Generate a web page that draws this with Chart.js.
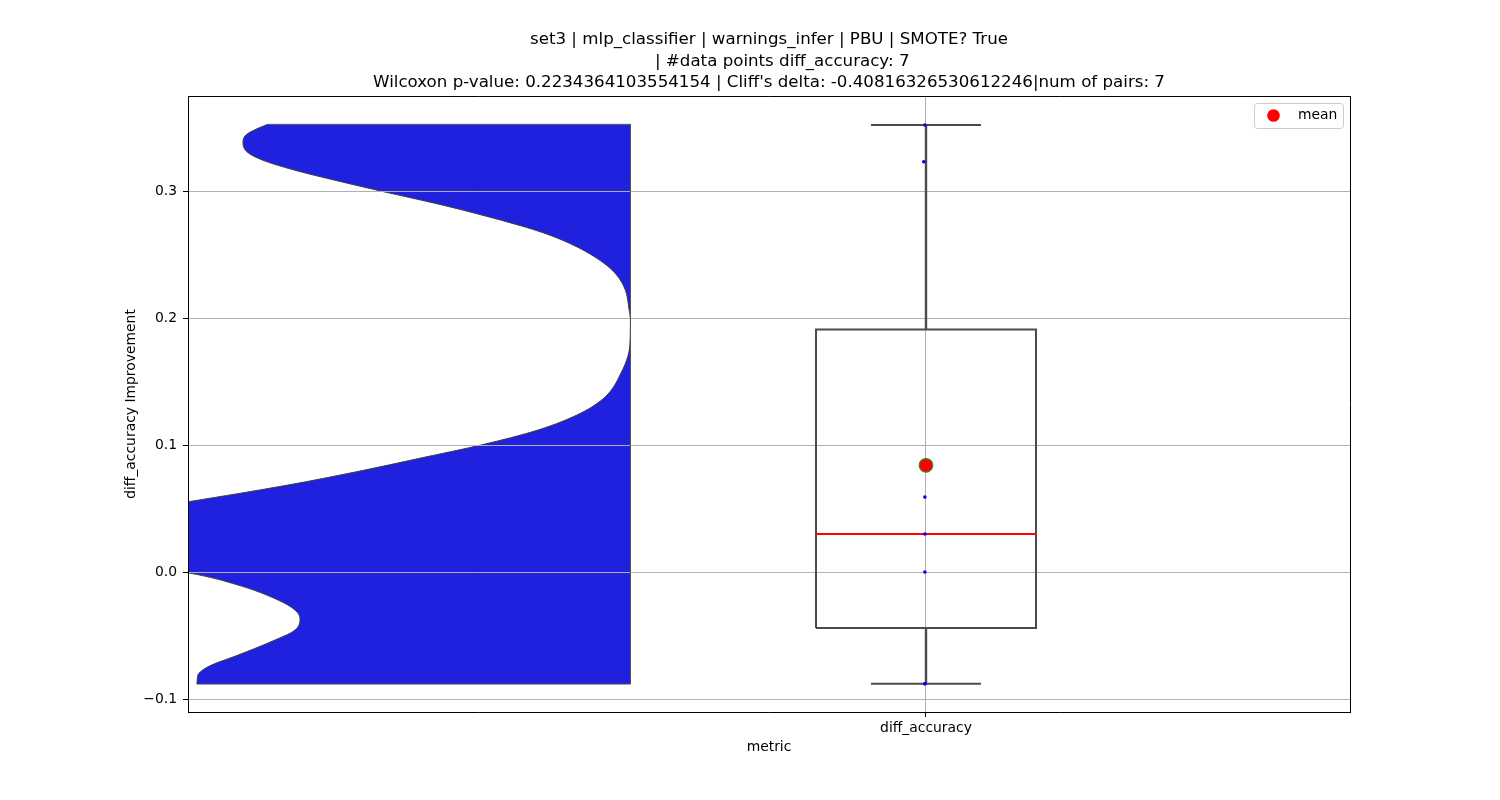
<!DOCTYPE html>
<html>
<head>
<meta charset="utf-8">
<script src="https://cdn.jsdelivr.net/npm/chart.js@4/dist/chart.umd.min.js"></script>
<style>
html,body{margin:0;padding:0;background:#fff;}
#wrap{width:1500px;height:800px;}
</style>
</head>
<body>
<div id="wrap"><canvas id="c" width="1500" height="800"></canvas></div>
<script>
// ---------------- data ----------------
const titleLines = [
  "set3 | mlp_classifier | warnings_infer | PBU | SMOTE? True",
  "     | #data points diff_accuracy: 7",
  "Wilcoxon p-value: 0.2234364103554154 | Cliff's delta: -0.40816326530612246|num of pairs: 7"
];
const categories = ["diff_accuracy"];
const categoryPositions = [0];
const yTickValues = [-0.1, 0.0, 0.1, 0.2, 0.3];
const yTickLabels = ["\u22120.1", "0.0", "0.1", "0.2", "0.3"];
const xLimits = [-1.3418, 0.7709];
const yLimits = [-0.1102, 0.3748];

// observed values (strip points) and their small horizontal jitter
const pointValues = [0.352, 0.323, 0.059, 0.030, 0.0, -0.088, -0.088];
const pointJitter = [-0.002, -0.004, -0.002, -0.002, -0.002, -0.002, -0.002];

// box statistics
const quartiles = [-0.044, 0.030, 0.191];   // q1, median, q3
const whiskers = [-0.088, 0.352];           // low, high
const meanValues = [0.084];

// half-violin outline (value axis, and x position of curve)
const violinValues = [-0.0882,-0.0811,-0.0746,-0.0654,-0.0549,-0.0457,-0.0365,-0.0299,-0.0220,-0.0102,-0.0006,
  0.006,0.028,0.048,0.0553,0.0685,0.0787,0.0898,0.1000,0.1118,0.1252,0.1378,0.1567,0.1774,0.1984,0.2071,
  0.2228,0.2354,0.2465,0.2583,0.2685,0.2798,0.2898,0.2992,0.3079,0.3157,0.3236,0.3302,0.3380,0.3441,0.3494,0.3525];
const violinCurveX = [-1.3255,-1.3236,-1.3055,-1.2509,-1.1909,-1.1473,-1.1382,-1.1473,-1.1782,-1.2509,-1.3418,
  -1.45,-1.52,-1.45,-1.3418,-1.16,-1.0382,-0.9182,-0.8091,-0.7055,-0.6273,-0.5836,-0.5545,-0.5387,-0.5373,-0.5400,
  -0.5473,-0.5655,-0.5964,-0.6455,-0.7055,-0.7964,-0.8873,-0.9836,-1.0691,-1.1418,-1.2018,-1.2327,-1.2418,-1.2364,-1.2145,-1.1964];
const violinEdgeX = [-0.5373];

// ---------------- layout / style constants ----------------
const BOX_HALF = 0.2, CAP_HALF = 0.1;
const FONT = 'DejaVu Sans';
const GRAY = '#4b4b4b';

Chart.defaults.font.family = FONT;
Chart.defaults.color = '#000';

const pos = categoryPositions[0];
const violinCurve = violinValues.map((v, i) => ({x: violinCurveX[i], y: v}));
const vTop = violinValues[violinValues.length - 1], vBot = violinValues[0];
const violinEdge = [
  {x: violinCurveX[violinCurveX.length - 1], y: vTop},
  {x: violinEdgeX[0], y: vTop},
  {x: violinEdgeX[0], y: vBot},
  {x: violinCurveX[0], y: vBot}
];
const [q1, med, q3] = quartiles;
const boxRect = [
  {x: pos - BOX_HALF, y: q1}, {x: pos + BOX_HALF, y: q1},
  {x: pos + BOX_HALF, y: q3}, {x: pos - BOX_HALF, y: q3}, {x: pos - BOX_HALF, y: q1}
];
const lineDs = (data, color, width, order) => ({
  data, showLine: true, borderColor: color, borderWidth: width, pointRadius: 0,
  pointHoverRadius: 0, fill: false, tension: 0, order
});

const gridOverViolin = {
  id: 'gridOverViolin',
  afterDatasetDraw(chart, args) {
    if (args.index !== 0) return;
    const ctx = chart.ctx;
    ctx.save();
    chart.scales.y.drawGrid(chart.chartArea);
    ctx.restore();
    ctx.save();
    chart.scales.y.drawBorder();
    ctx.restore();
  }
};

const meanLegend = {
  id: 'meanLegend',
  afterDraw(chart) {
    const {ctx, chartArea} = chart;
    const w = 89, h = 25, r = 3;
    const x = chartArea.right - 7 - w + 0.5, y = chartArea.top + 7 + 0.5;
    ctx.save();
    ctx.beginPath();
    ctx.moveTo(x + r, y);
    ctx.lineTo(x + w - r, y); ctx.arcTo(x + w, y, x + w, y + r, r);
    ctx.lineTo(x + w, y + h - r); ctx.arcTo(x + w, y + h, x + w - r, y + h, r);
    ctx.lineTo(x + r, y + h); ctx.arcTo(x, y + h, x, y + h - r, r);
    ctx.lineTo(x, y + r); ctx.arcTo(x, y, x + r, y, r);
    ctx.closePath();
    ctx.fillStyle = 'rgba(255,255,255,0.8)';
    ctx.fill();
    ctx.strokeStyle = '#cccccc';
    ctx.lineWidth = 1;
    ctx.stroke();
    ctx.beginPath();
    ctx.arc(x + 19, y + 12, 6.3, 0, Math.PI * 2);
    ctx.fillStyle = '#ff0000';
    ctx.fill();
    ctx.fillStyle = '#000';
    ctx.font = '13.9px "' + FONT + '"';
    ctx.textAlign = 'left';
    ctx.textBaseline = 'middle';
    ctx.fillText('mean', x + 43.5, y + 12);
    ctx.restore();
  }
};

new Chart(document.getElementById('c'), {
  type: 'scatter',
  data: {
    datasets: [
      { // 0: half violin (filled from curve to its flat edge)
        data: violinCurve, indexAxis: 'y', showLine: true,
        cubicInterpolationMode: 'monotone', capBezierPoints: false,
        borderColor: '#3f3f3f', borderWidth: 1, backgroundColor: '#2020df',
        fill: {value: violinEdgeX[0]}, pointRadius: 0, pointHoverRadius: 0, order: 10
      },
      lineDs(violinEdge, '#555555', 1, 9),
      lineDs(boxRect, GRAY, 2, 6),
      lineDs([{x: pos, y: q3}, {x: pos, y: whiskers[1]}], GRAY, 2.4, 6),
      lineDs([{x: pos, y: q1}, {x: pos, y: whiskers[0]}], GRAY, 2.4, 6),
      lineDs([{x: pos - CAP_HALF, y: whiskers[1]}, {x: pos + CAP_HALF, y: whiskers[1]}], GRAY, 2, 6),
      lineDs([{x: pos - CAP_HALF, y: whiskers[0]}, {x: pos + CAP_HALF, y: whiskers[0]}], GRAY, 2, 6),
      lineDs([{x: pos - BOX_HALF, y: med}, {x: pos + BOX_HALF, y: med}], '#ff0000', 2, 5),
      { // strip points
        data: pointValues.map((v, i) => ({x: pos + pointJitter[i], y: v})),
        pointRadius: 1.8, pointBackgroundColor: '#0000ff', pointBorderWidth: 0,
        pointHoverRadius: 1.8, order: 2
      },
      { // mean marker
        label: 'mean',
        data: meanValues.map(v => ({x: pos, y: v})),
        pointRadius: 6.8, pointBackgroundColor: '#ff0000', pointBorderColor: '#2e8b2e',
        pointBorderWidth: 1.2, pointHoverRadius: 6.8, order: 1
      }
    ]
  },
  options: {
    responsive: false,
    animation: false,
    devicePixelRatio: 1,
    layout: {padding: {left: 0, right: 150, top: 0, bottom: 0}},
    plugins: {
      legend: {display: false},
      tooltip: {enabled: false},
      title: {
        display: true, text: titleLines, fullSize: false, color: '#000',
        font: {family: FONT, size: 16.67, weight: 'normal', lineHeight: 1.278},
        padding: {top: 29.4, bottom: 2.7}
      }
    },
    scales: {
      x: {
        type: 'linear', position: 'bottom', min: xLimits[0], max: xLimits[1],
        afterFit(s) { s.height = 88; },
        afterBuildTicks(s) { s.ticks = categoryPositions.map(v => ({value: v})); },
        ticks: {
          callback: (v, i) => categories[i], font: {size: 13.9, family: FONT},
          color: '#000', padding: 3, maxRotation: 0, autoSkip: false
        },
        grid: {color: '#b0b0b0', lineWidth: 1, drawTicks: true, tickLength: 5, tickColor: '#000', tickWidth: 1},
        border: {display: true, color: '#000', width: 1},
        title: {display: true, text: 'metric', font: {size: 13.9, family: FONT}, color: '#000', padding: {top: 0, bottom: 44.7}}
      },
      y: {
        type: 'linear', position: 'left', min: yLimits[0], max: yLimits[1],
        afterFit(s) { s.width = 188; },
        afterBuildTicks(s) { s.ticks = yTickValues.map(v => ({value: v})); },
        ticks: {
          callback: (v, i) => yTickLabels[i], font: {size: 13.9, family: FONT},
          color: '#000', padding: 6, autoSkip: false
        },
        grid: {color: '#b0b0b0', lineWidth: 1, drawTicks: true, tickLength: 5, tickColor: '#000', tickWidth: 1},
        border: {display: true, color: '#000', width: 1},
        title: {display: true, text: 'diff_accuracy Improvement', font: {size: 13.9, family: FONT}, color: '#000', padding: {top: 122.7, bottom: 0}}
      },
      xTop: {
        type: 'linear', position: 'top', min: xLimits[0], max: xLimits[1],
        afterFit(s) { s.height = 0; },
        grid: {display: false, drawTicks: false}, ticks: {display: false},
        border: {display: true, color: '#000', width: 1}
      },
      yRight: {
        type: 'linear', position: 'right', min: yLimits[0], max: yLimits[1],
        afterFit(s) { s.width = 0; },
        grid: {display: false, drawTicks: false}, ticks: {display: false},
        border: {display: true, color: '#000', width: 1}
      }
    }
  },
  plugins: [gridOverViolin, meanLegend]
});
</script>
</body>
</html>
